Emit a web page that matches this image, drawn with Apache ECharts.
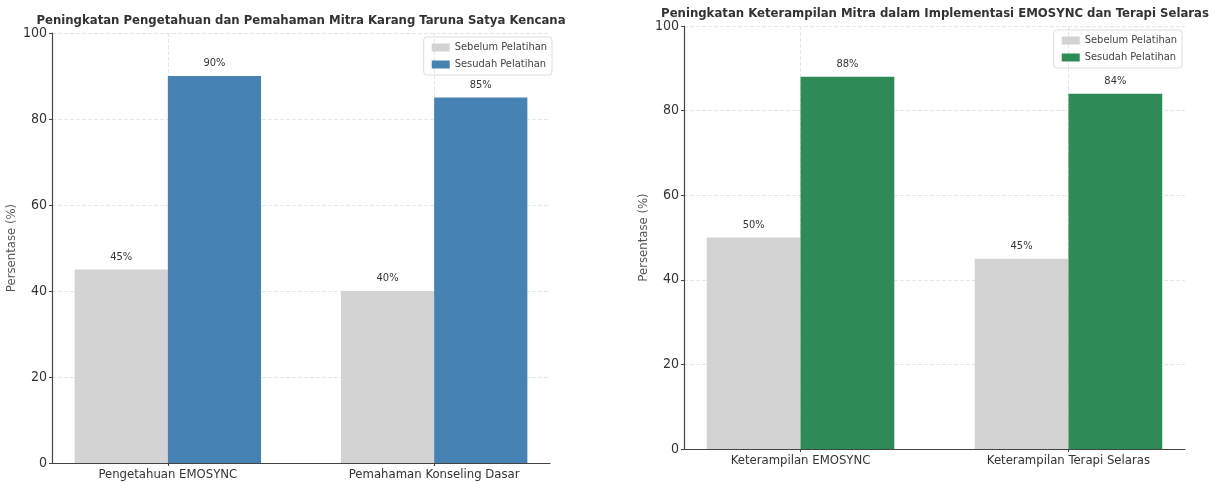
<!DOCTYPE html>
<html>
<head>
<meta charset="utf-8">
<script src="https://cdn.jsdelivr.net/npm/echarts@6/dist/echarts.min.js"></script>
<style>
  html, body { margin: 0; padding: 0; background: #fff; }
  #chart { width: 1217px; height: 482px; }
</style>
</head>
<body>
<div id="chart"></div>
<script>
// data
var titles = [
  'Peningkatan Pengetahuan dan Pemahaman Mitra Karang Taruna Satya Kencana',
  'Peningkatan Keterampilan Mitra dalam Implementasi EMOSYNC dan Terapi Selaras'
];
var legendNames = ['Sebelum Pelatihan', 'Sesudah Pelatihan'];
var categoriesA = ['Pengetahuan EMOSYNC', 'Pemahaman Konseling Dasar'];
var beforeA = [45, 40];
var afterA = [90, 85];
var categoriesB = ['Keterampilan EMOSYNC', 'Keterampilan Terapi Selaras'];
var beforeB = [50, 45];
var afterB = [88, 84];
var yTicks = [0, 20, 40, 60, 80, 100];

var FONT = '"DejaVu Sans Condensed", "DejaVu Sans", sans-serif';
var GREY = '#d3d3d3';
var BLUE = '#4682b4';
var GREEN = '#2e8b57';

function pairs(arr) {
  return arr.map(function (v, i) { return [i, v]; });
}

function xAxisFor(gridIndex, cats) {
  return {
    type: 'value',
    gridIndex: gridIndex,
    min: -0.435,
    max: 1.435,
    axisLine: { show: true, onZero: false, lineStyle: { color: '#444', width: 1.2 } },
    axisTick: { show: true, customValues: [0, 1], length: 3, lineStyle: { color: '#444' } },
    axisLabel: {
      customValues: [0, 1],
      formatter: function (v) { return cats[Math.round(v)]; },
      fontFamily: FONT, fontSize: 13, color: '#333', margin: 5
    },
    splitLine: { show: true, lineStyle: { color: '#e6e6e6', type: 'dashed' } }
  };
}

function yAxisFor(gridIndex) {
  return {
    type: 'value',
    gridIndex: gridIndex,
    min: yTicks[0],
    max: yTicks[yTicks.length - 1],
    interval: 20,
    name: 'Persentase (%)',
    nameLocation: 'middle',
    nameGap: 34,
    nameTextStyle: { fontFamily: FONT, fontSize: 13, color: '#555' },
    axisLine: { show: true, onZero: false, lineStyle: { color: '#444', width: 1.2 } },
    axisTick: { show: true, length: 3, lineStyle: { color: '#444' } },
    axisLabel: { fontFamily: FONT, fontSize: 14, color: '#333', margin: 5 },
    splitLine: { show: true, lineStyle: { color: '#e6e6e6', type: 'dashed' } }
  };
}

function barSeries(name, data, idx, color) {
  return {
    name: name,
    type: 'bar',
    xAxisIndex: idx,
    yAxisIndex: idx,
    data: pairs(data),
    barWidth: '35%',
    barGap: '0%',
    itemStyle: { color: color },
    label: {
      show: true,
      position: 'top',
      distance: 7,
      formatter: function (p) { return p.value[1] + '%'; },
      fontFamily: FONT, fontSize: 11, color: '#333'
    }
  };
}

function legendFor(right, top, color) {
  return {
    orient: 'vertical',
    right: right,
    top: top,
    align: 'left',
    data: [
      { name: legendNames[0], itemStyle: { color: GREY } },
      { name: legendNames[1], itemStyle: { color: color } }
    ],
    icon: 'rect',
    itemWidth: 18,
    itemHeight: 8,
    itemGap: 6,
    padding: [5, 5, 5, 8],
    borderColor: '#ddd',
    borderWidth: 1,
    borderRadius: 3,
    selectedMode: false,
    textStyle: { fontFamily: FONT, fontSize: 11, color: '#444' }
  };
}

var chart = echarts.init(document.getElementById('chart'));
chart.setOption({
  animation: false,
  title: [
    { text: titles[0], left: 296, top: 9, textAlign: 'center',
      textStyle: { fontFamily: FONT, fontSize: 13, fontWeight: 'bold', color: '#333' } },
    { text: titles[1], left: 930, top: 2, textAlign: 'center',
      textStyle: { fontFamily: FONT, fontSize: 13, fontWeight: 'bold', color: '#333' } }
  ],
  legend: [legendFor(665, 37, BLUE), legendFor(35, 30, GREEN)],
  grid: [
    { left: 52, right: 667, top: 33, bottom: 19 },
    { left: 684, right: 32, top: 26, bottom: 33 }
  ],
  xAxis: [xAxisFor(0, categoriesA), xAxisFor(1, categoriesB)],
  yAxis: [yAxisFor(0), yAxisFor(1)],
  series: [
    barSeries(legendNames[0], beforeA, 0, GREY),
    barSeries(legendNames[1], afterA, 0, BLUE),
    barSeries(legendNames[0], beforeB, 1, GREY),
    barSeries(legendNames[1], afterB, 1, GREEN)
  ]
});
</script>
</body>
</html>
